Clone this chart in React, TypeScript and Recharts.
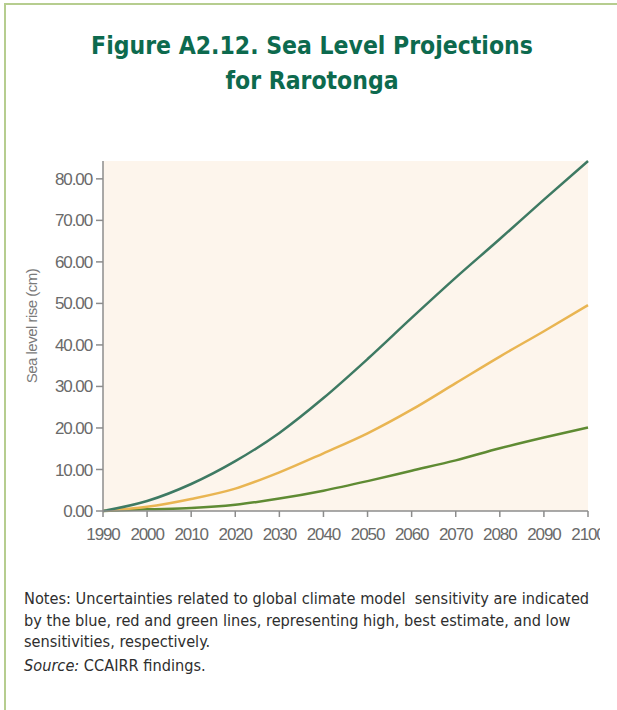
import { CartesianGrid, Label, Line, LineChart, XAxis, YAxis } from "recharts";

const years = [1990, 2000, 2010, 2020, 2030, 2040, 2050, 2060, 2070, 2080, 2090, 2100];
const highSensitivity = [0, 2.4, 6.5, 12.0, 18.8, 27.2, 36.6, 46.5, 56.2, 65.5, 75.0, 84.3];
const bestEstimate = [0, 1.0, 2.9, 5.4, 9.3, 13.9, 18.7, 24.4, 30.8, 37.2, 43.3, 49.6];
const lowSensitivity = [0, 0.4, 0.7, 1.5, 3.0, 4.9, 7.2, 9.7, 12.2, 15.1, 17.7, 20.1];
const yTicks = [0, 10, 20, 30, 40, 50, 60, 70, 80];

const chartData = years.map((year, i) => ({
  year,
  high: highSensitivity[i],
  best: bestEstimate[i],
  low: lowSensitivity[i],
}));

const narrow = "'Liberation Sans Narrow', 'Arial Narrow', 'DejaVu Sans Condensed', sans-serif";
const tickFont = "'Liberation Sans', Arial, sans-serif";
const axisGrey = "#8c8c8c";
const tickStyle = { fontSize: 17, fill: "#6a6a6a", fontFamily: tickFont, letterSpacing: -1.1 };

export default function App() {
  return (
    <div style={{ position: "absolute", left: 0, top: 0, width: 617, height: 710, background: "#fff", overflow: "hidden" }}>
      <div style={{ position: "absolute", left: 4, top: 3, width: 613, height: 707, borderLeft: "2px solid #b6cd8f", borderTop: "2px solid #b6cd8f" }} />
      <div
        style={{
          position: "absolute",
          left: 0,
          top: 29,
          width: 624,
          textAlign: "center",
          fontFamily: narrow,
          fontWeight: 700,
          fontSize: 24.5,
          lineHeight: "34.5px",
          color: "#0d6a4e",
        }}
      >
        Figure A2.12. Sea Level Projections
        <br />
        for Rarotonga
      </div>

      <div style={{ position: "absolute", left: 0, top: 140, width: 600, height: 420, overflow: "hidden" }}>
        <LineChart width={617} height={420} data={chartData} margin={{ top: 21, right: 29, bottom: 9, left: 0 }}>
          <CartesianGrid horizontal={false} vertical={false} fill="#fdf5ec" />
          <XAxis
            dataKey="year"
            type="number"
            domain={[1990, 2100]}
            ticks={years}
            height={40}
            stroke={axisGrey}
            strokeWidth={1.5}
            tickSize={6}
            tickMargin={11}
            tick={tickStyle}
          />
          <XAxis xAxisId="top" orientation="top" dataKey="year" type="number" domain={[1990, 2100]} height={0} tick={false} tickLine={false} stroke="#3b3232" strokeWidth={2.5} />
          <YAxis
            type="number"
            domain={[0, "dataMax"]}
            ticks={yTicks}
            width={103}
            stroke={axisGrey}
            strokeWidth={1.5}
            tickSize={7}
            tickMargin={4}
            tick={tickStyle}
            tickFormatter={(v: number) => v.toFixed(2)}
          >
            <Label
              content={() => (
                <text
                  x={37}
                  y={186}
                  transform="rotate(-90, 37, 186)"
                  textAnchor="middle"
                  fontFamily={tickFont}
                  fontSize={15}
                  fill="#7a7a7a"
                  letterSpacing={-0.5}
                >
                  Sea level rise (cm)
                </text>
              )}
            />
          </YAxis>
          <YAxis yAxisId="right" orientation="right" width={0} domain={[0, "dataMax"]} tick={false} tickLine={false} stroke="#a0a0a0" strokeWidth={2} />
          <Line dataKey="low" type="monotone" stroke="#5f8b33" strokeWidth={2.5} dot={false} isAnimationActive={false} />
          <Line dataKey="best" type="monotone" stroke="#e9b552" strokeWidth={2.5} dot={false} isAnimationActive={false} />
          <Line dataKey="high" type="monotone" stroke="#3e7a63" strokeWidth={2.5} dot={false} isAnimationActive={false} />
        </LineChart>
      </div>

      <div
        style={{
          position: "absolute",
          left: 24,
          top: 588,
          width: 590,
          whiteSpace: "nowrap",
          fontFamily: narrow,
          fontSize: 16.2,
          lineHeight: "21.5px",
          color: "#2e2e2e",
        }}
      >
        Notes: Uncertainties related to global climate model&nbsp; sensitivity are indicated
        <br />
        by the blue, red and green lines, representing high, best estimate, and low
        <br />
        sensitivities, respectively.
        <div style={{ marginTop: 2 }}>
          <i>Source:</i> CCAIRR findings.
        </div>
      </div>
    </div>
  );
}
